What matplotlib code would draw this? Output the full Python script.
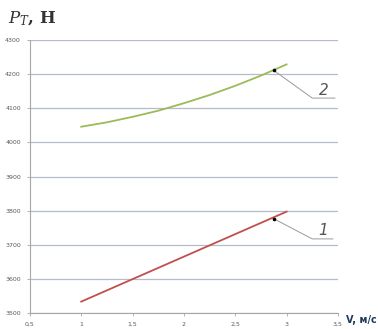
import matplotlib
matplotlib.use('Agg')
import matplotlib.pyplot as plt
import matplotlib.ticker as ticker

plt.rcParams['mathtext.fontset'] = 'dejavuserif'

# --- data ---
v_vals = [1.0, 1.25, 1.5, 1.75, 2.0, 2.25, 2.5, 2.75, 3.0]
p_curve2 = [4046, 4059, 4075, 4093, 4115, 4139, 4166, 4196, 4229]
p_curve1 = [3533, 3566, 3599, 3632, 3665, 3698, 3731, 3764, 3797]

x_ticks = [0.5, 1.0, 1.5, 2.0, 2.5, 3.0, 3.5]
x_tick_labels = ['0,5', '1', '1,5', '2', '2,5', '3', '3,5']
y_ticks = [3500, 3600, 3700, 3800, 3900, 4000, 4100, 4200, 4300]

# leader lines: point on curve, elbow, end of shelf
lead2 = ([2.876, 3.25, 3.47], [4211, 4130, 4130])
lead1 = ([2.876, 3.25, 3.45], [3776, 3717, 3717])

COLOR_GREEN = '#9bbb59'
COLOR_RED = '#c0504d'
COLOR_GRID = '#b4bccb'
COLOR_AXIS = '#a6a6a6'
COLOR_TICKTXT = '#595959'

fig = plt.figure(figsize=(3.78, 3.29), dpi=100)
ax = fig.add_axes([0.079, 0.049, 0.815, 0.829])

ax.plot(v_vals, p_curve2, color=COLOR_GREEN, linewidth=1.3, zorder=3)
ax.plot(v_vals, p_curve1, color=COLOR_RED, linewidth=1.3, zorder=3)

for xs, ys in (lead2, lead1):
    ax.plot(xs, ys, color='#9a9a9a', linewidth=0.7, zorder=4)
    ax.plot(xs[0], ys[0], 'o', color='black', markersize=1.6, zorder=5)

ax.text(3.36, 4152, '2', fontsize=11, color='#555555', style='italic',
        ha='center', va='center', family='DejaVu Sans')
ax.text(3.36, 3742, '1', fontsize=11, color='#555555', style='italic',
        ha='center', va='center', family='DejaVu Sans')

ax.set_xlim(0.5, 3.5)
ax.set_ylim(3500, 4300)
ax.set_xticks(x_ticks)
ax.set_xticklabels(x_tick_labels)
ax.set_yticks(y_ticks)
ax.yaxis.set_major_formatter(ticker.FuncFormatter(lambda y, _: '%d' % y))

ax.grid(True, axis='y', color=COLOR_GRID, linewidth=0.9)
ax.set_axisbelow(True)
for s in ('top', 'right'):
    ax.spines[s].set_visible(False)
for s in ('left', 'bottom'):
    ax.spines[s].set_color(COLOR_AXIS)
    ax.spines[s].set_linewidth(0.8)

ax.tick_params(axis='both', labelsize=4.5, colors=COLOR_AXIS, length=2.5,
               width=0.6, labelcolor=COLOR_TICKTXT, pad=4)

fig.text(0.02, 0.942, r'$P_T$, Н', fontsize=12, family='DejaVu Serif',
         fontweight='bold', color='#333333', ha='left', va='center')
fig.text(0.915, 0.027, 'V, м/с', fontsize=7, fontweight='bold',
         color='#1f3a5f', ha='left', va='center')

fig.savefig('out.png', dpi=100)
